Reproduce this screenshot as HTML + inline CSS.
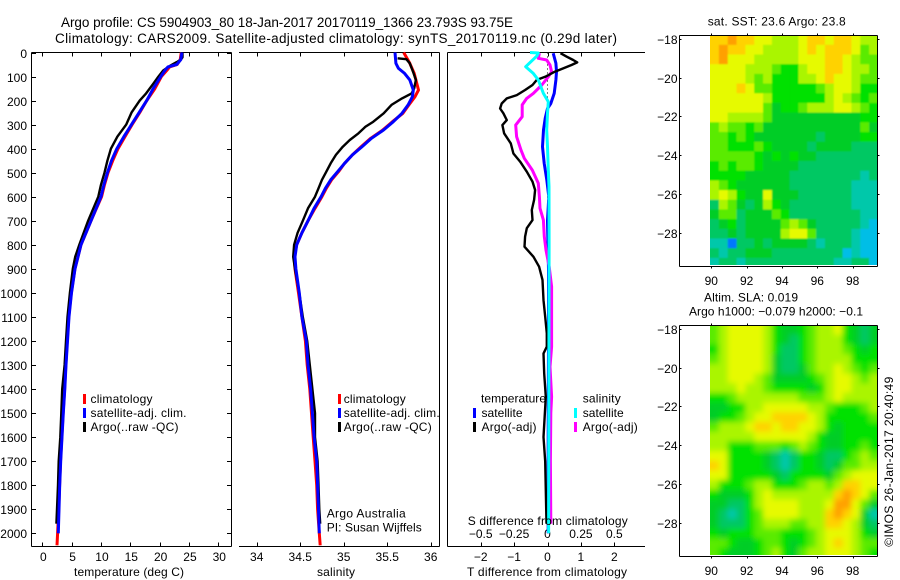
<!DOCTYPE html>
<html lang="en">
<head>
<meta charset="utf-8">
<title>Argo profile 5904903_80</title>
<style>
html,body{margin:0;padding:0;background:#fff;}
#figure{display:block;width:900px;height:580px;background:#fff;}
text{font-family:"Liberation Sans",sans-serif;font-size:12px;fill:#000;}
.title{font-size:13.5px;}
</style>
</head>
<body>
<svg id="figure" xmlns="http://www.w3.org/2000/svg" width="900" height="580" viewBox="0 0 900 580">
<defs>
<clipPath id="clip-sst"><rect x="710" y="35.3" width="167.3" height="229.7"/></clipPath>
<clipPath id="clip-sla"><rect x="710" y="325.3" width="167.3" height="229.7"/></clipPath>
<filter id="blur-sst" x="-10%" y="-10%" width="120%" height="120%"><feGaussianBlur stdDeviation="0.9"/></filter>
<filter id="blur-sla" x="-10%" y="-10%" width="120%" height="120%"><feGaussianBlur stdDeviation="2.8"/></filter>
</defs>
<text class="title" x="61" y="27" textLength="452" lengthAdjust="spacing">Argo profile: CS 5904903_80 18-Jan-2017 20170119_1366 23.793S 93.75E</text>
<text class="title" x="55" y="43" textLength="562" lengthAdjust="spacing">Climatology: CARS2009. Satellite-adjusted climatology: synTS_20170119.nc (0.29d later)</text>
<g id="temp-panel"></g>
<g id="sal-panel"></g>
<g id="diff-panel"></g>
<g id="sst-panel"></g>
<g id="sla-panel"></g>

<g>
<rect x="83" y="394" width="3" height="10" fill="#f00"/>
<text x="90.5" y="403" textLength="62" lengthAdjust="spacing">climatology</text>
<rect x="83" y="408" width="3" height="10" fill="#00f"/>
<text x="90.5" y="417" textLength="96" lengthAdjust="spacing">satellite-adj. clim.</text>
<rect x="83" y="422" width="3" height="10" fill="#000"/>
<text x="90.5" y="431" textLength="88" lengthAdjust="spacing">Argo(..raw -QC)</text>
</g>
<g>
<rect x="338" y="394" width="3" height="10" fill="#f00"/>
<text x="343.7" y="403" textLength="62" lengthAdjust="spacing">climatology</text>
<rect x="338" y="408" width="3" height="10" fill="#00f"/>
<text x="343.7" y="417" textLength="96" lengthAdjust="spacing">satellite-adj. clim.</text>
<rect x="338" y="422" width="3" height="10" fill="#000"/>
<text x="343.7" y="431" textLength="88" lengthAdjust="spacing">Argo(..raw -QC)</text>
</g>
<text x="326.7" y="517.5" textLength="79" lengthAdjust="spacing">Argo Australia</text>
<text x="326.7" y="531.5" textLength="95" lengthAdjust="spacing">PI: Susan Wijffels</text>
<g>
<text x="481" y="402.5" textLength="65" lengthAdjust="spacing">temperature</text>
<rect x="473" y="408" width="3" height="10" fill="#00f"/>
<text x="481.5" y="417" textLength="41" lengthAdjust="spacing">satellite</text>
<rect x="473" y="422" width="3" height="10" fill="#000"/>
<text x="481.5" y="431" textLength="55" lengthAdjust="spacing">Argo(-adj)</text>
<text x="582.7" y="402.5" textLength="38" lengthAdjust="spacing">salinity</text>
<rect x="574" y="408" width="3" height="10" fill="#0ff"/>
<text x="582.7" y="417" textLength="41" lengthAdjust="spacing">satellite</text>
<rect x="574" y="422" width="3" height="10" fill="#f0f"/>
<text x="582.7" y="431" textLength="55" lengthAdjust="spacing">Argo(-adj)</text>
</g>
<text x="74" y="576" textLength="110" lengthAdjust="spacing">temperature (deg C)</text>
<text x="317" y="576" textLength="38" lengthAdjust="spacing">salinity</text>
<text x="467.7" y="525" textLength="160" lengthAdjust="spacing">S difference from climatology</text>
<text x="467" y="576" textLength="160" lengthAdjust="spacing">T difference from climatology</text>
<text x="707.7" y="25.5" textLength="138" lengthAdjust="spacing">sat. SST: 23.6 Argo: 23.8</text>
<text x="704" y="301.5" textLength="94" lengthAdjust="spacing">Altim. SLA: 0.019</text>
<text x="689" y="315.5" textLength="174" lengthAdjust="spacing">Argo h1000: −0.079 h2000: −0.1</text>
<text transform="translate(893,546.7) rotate(-90)" x="0" y="0" textLength="170" lengthAdjust="spacing">©IMOS 26-Jan-2017 20:40:49</text>
</svg>
<script>
// ---- Shared depth ticks ----
const depthTicks = [0,100,200,300,400,500,600,700,800,900,1000,1100,1200,1300,1400,1500,1600,1700,1800,1900,2000];

// ---- Temperature panel ----
const tempTicks = [0,5,10,15,20,25,30];
const tempBlueDepth = [0,30,50,60,75,100,150,200,250,300,350,400,450,500,550,600,700,800,900,1000,1100,1200,1300,1400,1500,1600,1700,1800,1900,2000];
const tempBlue = [23.8,23.6,22.9,21.4,20.9,20.2,18.9,17.8,16.5,15.2,13.9,12.7,11.8,11.1,10.5,10.0,8.3,6.6,5.57,4.98,4.55,4.3,4.04,3.83,3.58,3.36,3.14,2.97,2.85,2.73];
const tempClimDepth = [0,30,50,60,75,100,150,200,250,300,350,400,450,500,550,600,700,800,900,1000,1100,1200,1300,1400,1500,1600,1700,1800,1900,2000,2050];
const tempClim = [23.7,23.5,23.0,21.7,21.2,20.3,19.2,17.8,16.6,15.3,14.1,12.9,12.0,11.2,10.6,10.1,8.3,6.6,5.55,4.95,4.5,4.25,4.0,3.8,3.55,3.33,3.1,2.95,2.8,2.6,2.5];
const tempArgoDepth = [0,20,30,40,55,75,100,130,170,200,250,300,350,400,450,500,550,600,700,800,850,900,1000,1100,1200,1300,1400,1500,1600,1700,1800,1900,1960];
const tempArgo = [23.9,23.9,23.6,22.9,21.8,20.6,19.8,18.9,17.7,16.6,15.2,14.3,12.8,11.7,11.1,10.6,10.0,9.55,7.8,6.3,5.6,5.2,4.7,4.3,4.04,3.8,3.4,3.24,3.07,2.8,2.68,2.5,2.4];

// ---- Salinity panel ----
const salTicks = [34,34.5,35,35.5,36];
const salBlueDepth = [0,45,66,87,114,156,184,218,253,288,322,357,392,426,461,496,530,565,600,648,700,750,800,850,900,1000,1100,1200,1300,1400,1500,1600,1700,1800,1900,2000];
const salBlue = [35.59,35.6,35.63,35.70,35.76,35.80,35.79,35.74,35.67,35.57,35.46,35.32,35.21,35.10,35.01,34.93,34.85,34.79,34.74,34.66,34.59,34.52,34.46,34.44,34.45,34.49,34.52,34.57,34.59,34.62,34.64,34.66,34.69,34.70,34.71,34.72];
const salClimDepth = [0,45,87,156,184,218,253,288,322,357,392,426,461,496,530,565,600,648,700,750,800,850,900,1000,1100,1200,1300,1400,1500,1600,1700,1800,1900,2000,2050];
const salClim = [35.69,35.76,35.81,35.86,35.82,35.75,35.68,35.56,35.45,35.31,35.20,35.10,35.01,34.94,34.86,34.80,34.75,34.67,34.59,34.52,34.46,34.43,34.44,34.48,34.52,34.56,34.58,34.61,34.63,34.65,34.67,34.69,34.70,34.72,34.73];
const salArgoDepth = [24,28,45,73,114,149,170,191,218,253,288,309,336,364,392,426,461,496,530,565,600,648,700,750,800,850,900,1000,1100,1200,1300,1400,1500,1600,1700,1800,1900,1960];
const salArgo = [35.62,35.72,35.76,35.79,35.83,35.81,35.78,35.67,35.55,35.46,35.34,35.25,35.17,35.07,34.99,34.91,34.85,34.80,34.75,34.71,34.67,34.59,34.53,34.47,34.43,34.42,34.44,34.49,34.53,34.58,34.61,34.64,34.67,34.67,34.70,34.71,34.72,34.73];

// ---- Difference panel ----
const diffTTicks = [-2,-1,0,1,2];
const diffSTicks = [-0.5,-0.25,0,0.25,0.5];
const diffSTickLabels = ["−0.5","−0.25","0","0.25","0.5"];
const diffTTickLabels = ["−2","−1","0","1","2"];
const zeroLineDepths = [0,2000];
const zeroLineValues = [0,0];
const tDiffSatDepth = [3,45,80,114,170,212,233,274,322,392,461,530,600,700,900,1200,1600,2000];
const tDiffSat = [0.17,0.25,0.27,0.25,0.2,0.1,0,-0.07,-0.12,-0.15,-0.1,-0.02,0.04,0,0.03,0.03,0.02,0.02];
const tDiffArgoDepth = [3,17,31,41,52,66,80,101,114,135,156,177,191,212,233,253,281,302,336,378,420,454,496,537,572,613,655,697,731,766,808,850,891,946,1030,1099,1168,1224,1252,1335,1432,1600,1700,1960];
const tDiffArgo = [0.39,0.57,0.77,0.89,0.72,0.47,0.22,-0.07,-0.32,-0.45,-0.67,-0.92,-1.22,-1.37,-1.42,-1.32,-1.22,-1.35,-1.30,-1.10,-1.02,-0.82,-0.62,-0.45,-0.37,-0.40,-0.47,-0.45,-0.62,-0.67,-0.69,-0.42,-0.25,-0.15,-0.12,-0.07,-0.02,-0.02,-0.12,-0.1,-0.05,-0.12,-0.07,-0.03];
const sDiffArgoDepth = [3,24,31,52,80,101,135,170,191,218,267,302,350,406,440,489,544,600,648,697,766,822,891,974,1099,1224,1307,1432,1500,1700,1960];
const sDiffArgo = [-0.061,-0.069,-0.006,0.019,0.031,0.006,-0.043,-0.106,-0.156,-0.189,-0.189,-0.238,-0.231,-0.198,-0.174,-0.114,-0.069,-0.061,-0.056,-0.031,-0.024,-0.011,0.013,0.031,0.031,0.031,0.019,0.031,0.025,0.022,0.025];
const sDiffSatDepth = [0,2,15,59,87,114,170,205,253,322,392,489,558,800,2000];
const sDiffSat = [-0.131,-0.069,-0.08,-0.163,-0.106,-0.069,-0.031,0.006,0,-0.006,0,0.006,0.011,0.012,0.008];

// ---- Maps ----
const lonTicks = [90,92,94,96,98];
const latTicks = [-18,-20,-22,-24,-26,-28];
const sstLevels = [
[9,9,10,9,9,8,8,7,7,7,8,9,9,8,9,9,8,7,7],
[9,10,9,9,8,8,7,7,7,7,8,9,8,9,9,9,8,6,7],
[9,10,8,8,8,7,7,7,7,7,8,8,8,9,9,8,7,6,6],
[8,8,8,8,7,7,7,6,5,5,7,8,8,9,9,8,7,7,6],
[8,8,8,8,7,6,7,5,5,5,7,7,8,9,8,8,7,6,6],
[8,8,8,9,8,6,6,5,5,5,5,5,6,7,8,8,7,5,5],
[8,8,8,8,8,8,7,5,5,5,5,5,5,7,8,7,6,5,6],
[8,8,8,8,8,8,6,4,5,5,6,7,7,7,8,8,7,6,5],
[8,8,7,7,7,7,6,4,4,4,4,4,4,4,4,4,4,5,5],
[6,7,6,6,5,6,4,4,4,4,4,4,4,4,4,4,4,6,4],
[6,6,5,6,5,4,4,4,4,4,4,4,3,4,4,4,4,5,5],
[6,6,5,5,5,6,5,4,4,4,4,3,4,4,4,4,3,3,3],
[6,6,6,6,6,5,4,5,4,5,4,4,3,3,3,3,3,3,3],
[5,6,5,6,6,5,4,4,4,4,3,3,3,3,3,3,3,3,3],
[5,5,5,5,4,4,4,4,4,3,3,3,3,3,3,3,3,2,3],
[7,6,5,4,4,4,4,4,4,3,3,3,3,3,3,3,2,2,2],
[7,8,7,5,4,4,8,4,4,4,3,3,3,3,3,3,2,2,2],
[3,7,6,4,3,4,7,5,4,3,3,3,3,3,3,3,2,2,2],
[4,6,6,3,4,4,4,6,5,3,3,3,3,3,3,3,3,2,2],
[3,4,5,3,4,4,4,4,6,7,6,4,3,3,3,3,3,2,1],
[3,3,4,3,4,4,4,4,7,8,8,6,3,3,3,3,2,1,1],
[2,2,0,3,3,4,3,4,4,4,4,3,2,3,3,3,2,1,1],
[3,2,3,3,4,4,4,3,3,3,3,3,3,3,3,1,2,1,1],
[2,3,3,2,3,3,3,3,3,3,3,3,3,3,2,2,3,3,1]
];
const slaLevels = [
[6,7,8,8,8,8,7,5,4,4,5,6,7,7,8,5,4,3,4],
[6,7,8,8,8,8,7,5,4,3,5,6,7,7,7,5,4,3,4],
[5,7,8,8,8,8,7,5,3,3,5,6,7,7,7,6,5,4,5],
[6,7,8,8,8,8,7,4,3,3,5,6,7,7,7,7,5,5,5],
[7,7,8,8,8,8,7,4,3,3,4,6,7,7,8,7,6,5,6],
[7,7,8,8,8,7,6,4,4,4,4,5,6,7,8,8,7,6,7],
[7,7,7,8,7,7,6,5,5,5,5,4,5,7,8,8,7,7,7],
[5,5,6,7,7,7,7,7,7,7,6,6,6,7,8,7,7,7,7],
[4,4,5,5,7,7,8,8,8,8,8,7,7,6,5,5,5,6,7],
[4,5,5,6,7,8,8,9,9,9,9,8,7,5,5,5,5,5,6],
[6,7,7,7,8,9,9,8,9,9,8,8,7,5,4,5,5,5,5],
[7,7,7,7,7,8,8,8,8,8,8,7,5,4,4,5,5,5,5],
[7,7,5,5,5,6,6,6,5,6,7,6,5,4,4,5,5,6,5],
[8,8,5,5,5,5,4,3,2,3,5,5,4,3,3,5,6,7,6],
[9,8,5,5,5,5,4,3,2,3,5,5,4,3,4,6,6,7,7],
[8,8,5,5,5,5,5,4,3,5,5,5,5,4,6,7,8,8,8],
[7,5,5,5,6,7,7,5,5,5,6,7,7,6,7,9,9,8,8],
[5,4,4,4,5,7,8,7,7,7,7,7,7,7,9,10,9,8,6],
[4,4,3,3,5,7,8,8,8,8,7,7,7,8,10,10,8,6,4],
[4,3,2,3,5,6,8,8,8,8,7,7,7,9,10,9,8,4,2],
[4,3,3,3,5,6,7,7,7,6,6,7,7,9,9,8,7,4,3],
[5,4,5,5,5,6,6,6,5,5,5,6,7,8,8,8,7,5,4],
[6,6,5,4,4,5,6,6,5,4,5,6,7,8,9,8,7,6,6],
[6,5,4,4,4,5,6,7,5,4,6,7,7,8,8,8,7,6,5]
];

// ---- Axis functions ----
const NS = "http://www.w3.org/2000/svg";
const yDepth = d => 52.5 + d * 0.2404;
const xTemp = t => 42.3 + 5.867 * t;
const xSal = s => 256.7 + 87 * (s - 34);
const xDiffT = t => 547.5 + 33.4 * t;
const xDiffS = s => 547.5 + 133.6 * s;
const xLon = lon => 711.3 + 17.67 * (lon - 90);
const ySst = lat => 39 + 19.37 * (-18 - lat);
const ySla = lat => 329 + 19.37 * (-18 - lat);

function make(tag, parent, attrs) {
  const el = document.createElementNS(NS, tag);
  for (const k in attrs) el.setAttribute(k, attrs[k]);
  parent.appendChild(el);
  return el;
}
function rule(parent, x1, y1, x2, y2, name) {
  const el = make("line", parent, {x1: x1, y1: y1, x2: x2, y2: y2, stroke: "#000", "stroke-width": 1, "shape-rendering": "crispEdges"});
  
  
  return el;
}
function label(parent, x, y, anchor, str, name) {
  const el = make("text", parent, {x: x, y: y, "text-anchor": anchor});
  el.textContent = str;
  
  
  return el;
}
function profile(parent, depths, values, xFn, color, width, name) {
  const pts = depths.map((d, i) => xFn(values[i]).toFixed(1) + "," + yDepth(d).toFixed(1)).join(" ");
  const el = make("polyline", parent, {points: pts, fill: "none", stroke: color, "stroke-width": width, "stroke-linejoin": "round"});
  
  
  return el;
}
function fmtMinus(v) { return String(v).replace("-", "−"); }

const topY = 52.5, botY = 546.5;

// Temperature panel
const tp = document.getElementById("temp-panel");
rule(tp, 31.5, topY, 231.5, topY, "top-axis-line");
rule(tp, 31.5, botY, 231.5, botY, "bottom-axis-line");
rule(tp, 31.5, topY, 31.5, botY, "left-axis-line");
rule(tp, 231.5, topY, 231.5, botY, "right-axis-line");
depthTicks.forEach(d => {
  const y = Math.round(yDepth(d)) + 0.5;
  rule(tp, 31.5, y, 36, y, "depth-tick-left");
  rule(tp, 227, y, 231.5, y, "depth-tick-right");
  label(tp, 27, y + 4.5, "end", String(d), "depth-tick-label");
});
tempTicks.forEach(t => {
  const x = Math.round(xTemp(t)) + 0.5;
  rule(tp, x, topY, x, topY + 4, "temperature-tick-top");
  rule(tp, x, botY, x, botY - 4, "temperature-tick-bottom");
  label(tp, xTemp(t) + 1, 561, "middle", String(t), "temperature-tick-label");
});
profile(tp, tempClimDepth, tempClim, xTemp, "#f00", 3, "temperature-climatology-line");
profile(tp, tempArgoDepth, tempArgo, xTemp, "#000", 2.4, "temperature-argo-line");
profile(tp, tempBlueDepth, tempBlue, xTemp, "#00f", 3, "temperature-satellite-adjusted-line");

// Salinity panel
const sp = document.getElementById("sal-panel");
rule(sp, 239, topY, 439.5, topY, "top-axis-line");
rule(sp, 239, botY, 439.5, botY, "bottom-axis-line");
rule(sp, 439.5, topY, 439.5, botY, "right-axis-line");
salTicks.forEach(s => {
  const x = Math.round(xSal(s)) + 0.5;
  rule(sp, x, topY, x, topY + 4, "salinity-tick-top");
  rule(sp, x, botY, x, botY - 4, "salinity-tick-bottom");
  label(sp, xSal(s), 561, "middle", String(s), "salinity-tick-label");
});
profile(sp, salClimDepth, salClim, xSal, "#f00", 3, "salinity-climatology-line");
profile(sp, salArgoDepth, salArgo, xSal, "#000", 2.4, "salinity-argo-line");
profile(sp, salBlueDepth, salBlue, xSal, "#00f", 3, "salinity-satellite-adjusted-line");

// Difference panel
const dp = document.getElementById("diff-panel");
rule(dp, 447.5, topY, 645, topY, "top-axis-line");
rule(dp, 447.5, botY, 645, botY, "bottom-axis-line");
rule(dp, 447.5, topY, 447.5, botY, "left-axis-line");
diffTTicks.forEach((t, i) => {
  const x = Math.round(xDiffT(t)) + 0.5;
  rule(dp, x, topY, x, topY + 4, "t-difference-tick-top");
  rule(dp, x, botY, x, botY - 4, "t-difference-tick-bottom");
  label(dp, xDiffT(t), 561, "middle", diffTTickLabels[i], "t-difference-tick-label");
});
diffSTicks.forEach((s, i) => {
  label(dp, xDiffS(s), 538, "middle", diffSTickLabels[i], "s-difference-tick-label");
});
const zeroLine = profile(dp, zeroLineDepths, zeroLineValues, xDiffT, "#000", 1, "zero-difference-line");
zeroLine.setAttribute("stroke-dasharray", "1 3");
profile(dp, tDiffSatDepth, tDiffSat, xDiffT, "#00f", 3, "t-difference-satellite-line");
profile(dp, sDiffArgoDepth, sDiffArgo, xDiffS, "#f0f", 3, "s-difference-argo-line");
profile(dp, tDiffArgoDepth, tDiffArgo, xDiffT, "#000", 2.4, "t-difference-argo-line");
profile(dp, sDiffSatDepth, sDiffSat, xDiffS, "#0ff", 3, "s-difference-satellite-line");

// Maps
const palette = ["#0078ff","#00bee6","#00c8aa","#00c864","#00cd28","#00e100","#5aeb00","#aaf500","#e6fa00","#ffd200","#ffa000"];
function drawMap(panel, levels, yFn, clipId, blurId, axTop, axBot) {
  const clipped = make("g", panel, {"clip-path": "url(#" + clipId + ")"});
  const blurred = make("g", clipped, {filter: "url(#" + blurId + ")"});
  const nRows = levels.length;
  levels.forEach((row, r) => {
    const nCols = row.length;
    row.forEach((v, c) => {
      const lonA = 89.93 + 0.5 * c, lonB = lonA + 0.5;
      const latA = -17.8 - 0.5 * r, latB = latA - 0.5;
      let x0 = xLon(lonA), x1 = xLon(lonB), y0 = yFn(latA), y1 = yFn(latB);
      if (c === 0) x0 -= 14;
      if (c === nCols - 1) x1 += 14;
      if (r === 0) y0 -= 14;
      if (r === nRows - 1) y1 += 14;
      const cell = make("rect", blurred, {x: x0.toFixed(2), y: y0.toFixed(2), width: (x1 - x0 + 0.4).toFixed(2), height: (y1 - y0 + 0.4).toFixed(2), fill: palette[v]});
      
      
    });
  });
  const L = 679.5, R = 877.5;
  rule(panel, L, axTop, R, axTop, "top-axis-line");
  rule(panel, L, axBot, R, axBot, "bottom-axis-line");
  rule(panel, L, axTop, L, axBot, "left-axis-line");
  rule(panel, R, axTop, R, axBot, "right-axis-line");
  lonTicks.forEach(lon => {
    const x = Math.round(xLon(lon)) + 0.5;
    rule(panel, x, axTop - 2, x, axTop, "longitude-tick-top");
    rule(panel, x, axBot, x, axBot + 2, "longitude-tick-bottom");
    label(panel, xLon(lon), axBot + 18.5, "middle", String(lon), "longitude-tick-label");
  });
  latTicks.forEach(lat => {
    const y = Math.round(yFn(lat)) + 0.5;
    rule(panel, L, y, L + 2, y, "latitude-tick-left");
    rule(panel, R, y, R + 2, y, "latitude-tick-right");
    label(panel, 677.5, y + 4.5, "end", fmtMinus(lat), "latitude-tick-label");
  });
}
drawMap(document.getElementById("sst-panel"), sstLevels, ySst, "clip-sst", "blur-sst", 35.5, 266.5);
drawMap(document.getElementById("sla-panel"), slaLevels, ySla, "clip-sla", "blur-sla", 325.5, 556.5);
</script>
</body>
</html>
